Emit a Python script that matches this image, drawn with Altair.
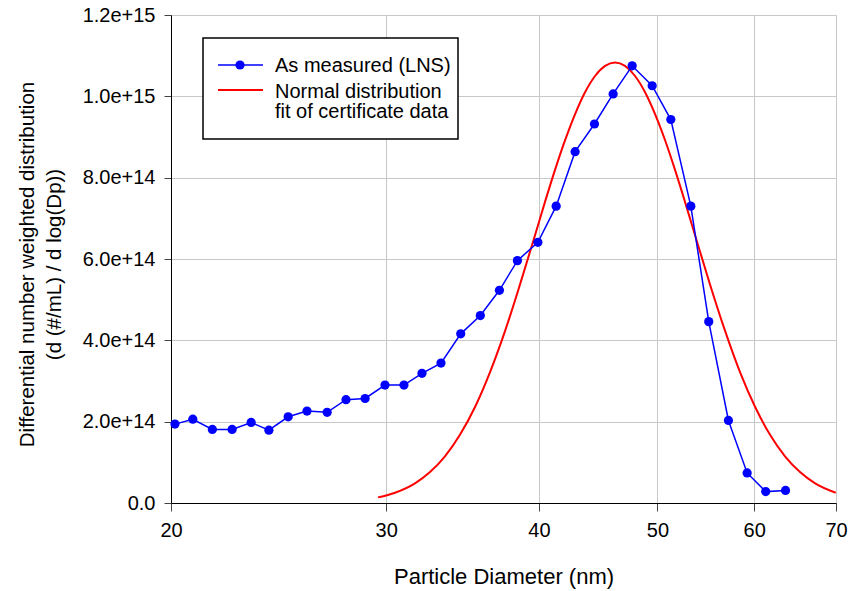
import altair as alt
import pandas as pd

# Measured (LNS) series
meas_d = [20.15, 20.84, 21.62, 22.44, 23.26, 24.05, 24.94, 25.84, 26.84, 27.81,
          28.83, 29.93, 31.02, 32.09, 33.26, 34.52, 35.82, 37.13, 38.41, 39.92,
          41.32, 42.82, 44.41, 46.00, 47.68, 49.51, 51.28, 53.25, 55.08, 57.16,
          59.21, 61.32, 63.65]
meas_v = [1.94e14, 2.06e14, 1.81e14, 1.81e14, 1.98e14, 1.79e14, 2.12e14, 2.26e14, 2.23e14, 2.54e14,
          2.57e14, 2.90e14, 2.90e14, 3.19e14, 3.44e14, 4.16e14, 4.61e14, 5.23e14, 5.96e14, 6.41e14,
          7.30e14, 8.64e14, 9.32e14, 1.006e15, 1.075e15, 1.026e15, 9.43e14, 7.30e14, 4.46e14, 2.03e14,
          7.4e13, 2.8e13, 3.1e13]

# Normal distribution fit of certificate data
fit_d = [29.54, 30.50, 31.67, 32.58, 33.51, 34.47, 35.47, 36.48, 37.53, 38.60,
         39.71, 40.46, 41.23, 42.02, 42.82, 43.63, 44.46, 45.31, 46.17, 47.04,
         47.94, 48.85, 49.78, 50.73, 51.69, 52.67, 53.67, 55.21, 56.80, 58.42,
         60.10, 61.82, 63.59, 65.41, 67.30, 69.97]
fit_v = [1.38e13, 2.53e13, 4.84e13, 7.60e13, 1.148e14, 1.677e14, 2.366e14, 3.219e14, 4.232e14, 5.375e14,
         6.590e14, 7.404e14, 8.191e14, 8.921e14, 9.565e14, 1.0101e15, 1.0500e15, 1.0748e15, 1.0832e15, 1.0748e15,
         1.0500e15, 1.0101e15, 9.565e14, 8.921e14, 8.191e14, 7.404e14, 6.590e14, 5.375e14, 4.232e14, 3.219e14,
         2.366e14, 1.677e14, 1.148e14, 7.60e13, 4.84e13, 2.53e13]

x_ticks = [20, 30, 40, 50, 60, 70]
y_ticks = [0, 2e14, 4e14, 6e14, 8e14, 1.0e15, 1.2e15]

legend_labels = ["As measured (LNS)", "Normal distribution", "fit of certificate data"]

FONT = "Liberation Sans"

meas_df = pd.DataFrame({"d": meas_d, "v": meas_v})
fit_df = pd.DataFrame({"d": fit_d, "v": fit_v})

x_enc = alt.X("d:Q",
              scale=alt.Scale(type="log", domain=[20, 70], nice=False),
              axis=alt.Axis(values=x_ticks, format="d", title="Particle Diameter (nm)",
                            grid=True, gridColor="#c8c8c8", gridWidth=1,
                            domainColor="black", tickColor="#444", tickSize=8,
                            labelFontSize=20, labelPadding=9, labelFlush=False,
                            titleFontSize=22, titleFontWeight="normal", titlePadding=26,
                            labelFont=FONT, titleFont=FONT, labelColor="black", titleColor="black"))
y_enc = alt.Y("v:Q",
              scale=alt.Scale(domain=[0, 1.2e15], nice=False),
              axis=alt.Axis(values=y_ticks,
                            labelExpr="datum.value == 0 ? '0.0' : format(datum.value, '.1e')",
                            title=["Differential number weighted distribution", "(d (#/mL) / d log(Dp))"],
                            grid=True, gridColor="#c8c8c8", gridWidth=1,
                            domainColor="black", tickColor="#444", tickSize=7,
                            labelFontSize=20, labelPadding=9,
                            titleFontSize=20.5, titleFontWeight="normal", titlePadding=18,
                            titleLineHeight=27, titleY=249,
                            labelFont=FONT, titleFont=FONT, labelColor="black", titleColor="black"))

fit_line = alt.Chart(fit_df).mark_line(color="#ff0000", strokeWidth=2, clip=True,
                                       interpolate="monotone").encode(
    x=x_enc, y=y_enc, order="d:Q")
meas_line = alt.Chart(meas_df).mark_line(color="#0000ff", strokeWidth=1.5).encode(
    x=x_enc, y=y_enc, order="d:Q")
meas_pts = alt.Chart(meas_df).mark_point(color="#0000ff", filled=True, opacity=1, size=85).encode(
    x=x_enc, y=y_enc)

one = pd.DataFrame({"a": [0]})
leg_box = alt.Chart(one).mark_rect(fill="white", stroke="black", strokeWidth=1.5).encode(
    x=alt.value(32), x2=alt.value(287), y=alt.value(23), y2=alt.value(124))
leg_blue = alt.Chart(one).mark_rule(color="#0000ff", strokeWidth=1.5).encode(
    x=alt.value(47), x2=alt.value(92), y=alt.value(50))
leg_dot = alt.Chart(one).mark_point(color="#0000ff", filled=True, opacity=1, size=85).encode(
    x=alt.value(69), y=alt.value(50))
leg_red = alt.Chart(one).mark_rule(color="#ff0000", strokeWidth=2).encode(
    x=alt.value(47), x2=alt.value(92), y=alt.value(75))
leg_t1 = alt.Chart(one).mark_text(text=legend_labels[0], align="left", baseline="alphabetic",
                                  fontSize=20, font=FONT, color="black").encode(
    x=alt.value(104), y=alt.value(57))
leg_t2 = alt.Chart(one).mark_text(text=legend_labels[1], align="left", baseline="alphabetic",
                                  fontSize=20, font=FONT, color="black").encode(
    x=alt.value(104), y=alt.value(83))
leg_t3 = alt.Chart(one).mark_text(text=legend_labels[2], align="left", baseline="alphabetic",
                                  fontSize=20, font=FONT, color="black").encode(
    x=alt.value(104), y=alt.value(103))

chart = alt.layer(
    fit_line, meas_line, meas_pts,
    leg_box, leg_blue, leg_dot, leg_red, leg_t1, leg_t2, leg_t3
).properties(
    width=665, height=488,
    autosize=alt.AutoSizeParams(type="none"),
    padding={"left": 171, "top": 15, "right": 20, "bottom": 88},
).configure_view(
    stroke="black", strokeWidth=1
).configure(background="white")

chart.save("out.html", embed_options={"renderer": "svg", "actions": False})
